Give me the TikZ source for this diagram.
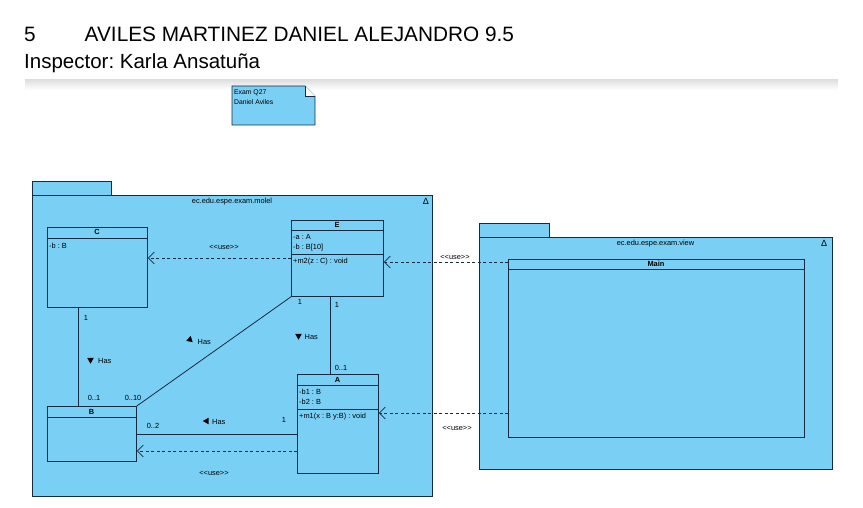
\documentclass[tikz,border=0pt]{standalone}
\usepackage{fontspec}
\setmainfont{Liberation Sans}
\usetikzlibrary{arrows.meta}
\frenchspacing

\definecolor{umlfill}{RGB}{122,207,245}
\definecolor{umlline}{RGB}{24,42,66}

\newcommand{\umlfont}{\fontsize{7.4}{8}\selectfont}
\newcommand{\usetag}{<{}<use>{}>}
% small filled direction mark of an association name
\newcommand{\hasmark}[3]{\fill[black, shift={(#1,#2)}, rotate=#3] (3.2,0) -- (-2.6,3.3) -- (-2.6,-3.3) -- cycle;}

\tikzset{
  pkg/.style={rectangle, draw=umlline, fill=umlfill, line width=0.8pt, anchor=north west, inner sep=0pt},
  umlclass/.style={rectangle, draw=umlline, fill=umlfill, line width=0.8pt, anchor=north west, inner sep=0pt},
  attr/.style={anchor=base west, inner sep=0pt, font=\umlfont},
  ctitle/.style={anchor=base, inner sep=0pt, font=\umlfont\bfseries},
  lbl/.style={anchor=base, inner sep=0pt, font=\umlfont},
  assoc/.style={draw=umlline, line width=0.8pt},
  use/.style={draw=umlline, line width=0.7pt, dash pattern=on 3pt off 2.5pt, -{Straight Barb[length=6pt,width=12pt]}},
}

\begin{document}
\begin{tikzpicture}[x=1pt, y=-1pt]
        \useasboundingbox (0,0) rectangle (863,508);

        % header
        \node[anchor=base west, inner sep=0pt, font=\fontsize{20.8}{24}\selectfont] (title) at (24,42) {5\hspace{49pt}AVILES MARTINEZ DANIEL ALEJANDRO 9.5};
        \node[anchor=base west, inner sep=0pt, font=\fontsize{20.5}{24}\selectfont] (inspector) at (24,69) {Inspector: Karla Ansatuña};
        \shade[top color=black!12, bottom color=white] (25,80) rectangle (838,90);

        % note
        \draw[fill=umlfill, draw=umlline, line width=0.7pt] (232,86) -- (305,86) -- (315,96) -- (315,125) -- (232,125) -- cycle;
        \draw[fill=white, draw=umlline, line width=0.7pt] (305,86) -- (305,96) -- (315,96);
        \node[attr, font=\fontsize{6.8}{7}\selectfont] (note1) at (234,95) {Exam Q27};
        \node[attr, font=\fontsize{6.8}{7}\selectfont] (note2) at (234,105) {Daniel Aviles};

        % packages
        \draw[fill=umlfill, draw=umlline, line width=0.8pt] (32,195) rectangle (111,181);
        \node[pkg, minimum width=400pt, minimum height=301pt] (model) at (32,195) {};
        \node[lbl] (modelname) at (232,203.5) {ec.edu.espe.exam.molel};
        \node[lbl, font=\fontsize{9}{10}\selectfont] (modeltri) at (426,205) {Δ};

        \draw[fill=umlfill, draw=umlline, line width=0.8pt] (479,237) rectangle (549,223);
        \node[pkg, minimum width=353pt, minimum height=232pt] (view) at (479,237) {};
        \node[lbl] (viewname) at (655.5,245.5) {ec.edu.espe.exam.view};
        \node[lbl, font=\fontsize{9}{10}\selectfont] (viewtri) at (824,247) {Δ};

        % classes
        \node[umlclass, minimum width=100pt, minimum height=80pt] (C) at (47,227) {};
        \draw[umlline, line width=0.8pt] (47,238) -- (147,238);
        \node[ctitle] (Cname) at (97,234.5) {C};
        \node[attr] (Cb) at (49,248.5) {-b : B};

        \node[umlclass, minimum width=92pt, minimum height=76pt] (E) at (291,220) {};
        \draw[umlline, line width=0.8pt] (291,230) -- (383,230);
        \draw[umlline, line width=0.8pt] (291,254) -- (383,254);
        \node[ctitle] (Ename) at (337,227.5) {E};
        \node[attr] (Ea) at (293,239.5) {-a : A};
        \node[attr] (Eb) at (293,249.5) {-b : B[10]};
        \node[attr] (Em) at (293,263) {+m2(z : C) : void};

        \node[umlclass, minimum width=81pt, minimum height=99pt] (A) at (297,374) {};
        \draw[umlline, line width=0.8pt] (297,385) -- (378,385);
        \draw[umlline, line width=0.8pt] (297,409) -- (378,409);
        \node[ctitle] (Aname) at (337.5,382.5) {A};
        \node[attr] (Ab1) at (299,394.5) {-b1 : B};
        \node[attr] (Ab2) at (299,404.5) {-b2 : B};
        \node[attr] (Am) at (299,418) {+m1(x : B y:B) : void};

        \node[umlclass, minimum width=89pt, minimum height=55pt] (B) at (47,406) {};
        \draw[umlline, line width=0.8pt] (47,417) -- (136,417);
        \node[ctitle] (Bname) at (91.5,414.5) {B};

        \node[umlclass, minimum width=296pt, minimum height=178pt] (Main) at (508,259) {};
        \draw[umlline, line width=0.8pt] (508,269) -- (804,269);
        \node[ctitle] (Mainname) at (656,266.5) {Main};

        % associations
        \path[assoc] ([xshift=31pt]C.south west) -- ([xshift=31pt]B.north west);
        \path[assoc] (E.south west) -- (B.north east);
        \path[assoc] ([xshift=39pt]E.south west) -- ([xshift=33pt]A.north west);
        \path[assoc] ([yshift=-60pt]A.north west) -- ([yshift=-60pt]A.north west -| B.east);

        \node[lbl] (cb1) at (86,320) {1};
        \hasmark{90.5}{360.5}{-90}
        \node[attr] (cbhas) at (98,363.5) {Has};
        \node[lbl] (cb01) at (94,400.5) {0..1};

        \node[lbl] (eb1) at (300,304.5) {1};
        \hasmark{190}{339}{78}
        \node[attr] (ebhas) at (197.5,344) {Has};
        \node[lbl] (eb010) at (133,400.5) {0..10};

        \node[lbl] (ea1) at (337,307.5) {1};
        \hasmark{298.5}{336.5}{-90}
        \node[attr] (eahas) at (304.5,339.5) {Has};
        \node[lbl] (ea01) at (341,370.5) {0..1};

        \node[lbl] (ab1) at (284,422.5) {1};
        \hasmark{206}{421}{180}
        \node[attr] (abhas) at (212,424) {Has};
        \node[lbl] (ab02) at (153,428.5) {0..2};

        % dependencies
        \path[use] ([yshift=-38pt]E.north west) -- ([yshift=-38pt]E.north west -| C.east);
        \path[use] ([yshift=-77pt]A.north west) -- ([yshift=-77pt]A.north west -| B.east);
        \path[use] ([yshift=-3pt]Main.north west) -- ([yshift=-3pt]Main.north west -| E.east);
        \path[use] ([yshift=-154pt]Main.north west) -- ([yshift=-154pt]Main.north west -| A.east);

        \node[lbl] (use1) at (224,249.5) {\usetag};
        \node[lbl] (use2) at (214,475) {\usetag};
        \node[lbl] (use3) at (455,259.5) {\usetag};
        \node[lbl] (use4) at (457,430) {\usetag};
    \end{tikzpicture}
\end{document}
